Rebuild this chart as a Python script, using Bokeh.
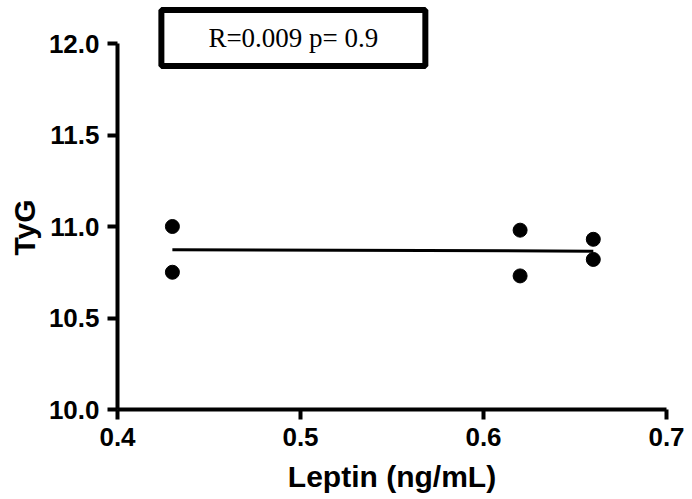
import numpy as np
from bokeh.plotting import figure
from bokeh.models import Range1d, FixedTicker, PrintfTickFormatter, Label, Title
from bokeh.embed import file_html
from bokeh.resources import INLINE

# Data
leptin = [0.43, 0.43, 0.62, 0.62, 0.66, 0.66]
tyg = [11.00, 10.75, 10.98, 10.73, 10.93, 10.82]
x_ticks = [0.4, 0.5, 0.6, 0.7]
y_ticks = [10.0, 10.5, 11.0, 11.5, 12.0]
annotation = "R=0.009 p= 0.9"

W, H = 692, 499
left, right, bottom, top = 117, 26, 90, 0
frame_h = H - bottom - top
# y axis spans 10..12 over 366 px; extra headroom above 12 holds the R/p box
y_end = 10.0 + 2.0 * frame_h / 366.0

p = figure(width=W, height=H, output_backend="svg", toolbar_location=None,
           x_range=Range1d(0.4, 0.7), y_range=Range1d(10.0, y_end),
           min_border_left=left, min_border_right=right,
           min_border_top=top, min_border_bottom=bottom)
p.outline_line_color = None
p.xgrid.visible = False
p.ygrid.visible = False
p.background_fill_color = "white"
p.border_fill_color = "white"

# regression line
slope, intercept = np.polyfit(leptin, tyg, 1)
xs = [min(leptin), max(leptin)]
ys = [slope * x + intercept for x in xs]
p.line(xs, ys, line_color="black", line_width=3)

p.scatter(leptin, tyg, size=14, marker="circle", fill_color="black", line_color="black")

for ax in (p.xaxis[0], p.yaxis[0]):
    ax.axis_line_width = 4
    ax.axis_line_color = "black"
    ax.major_tick_line_width = 4
    ax.major_tick_line_color = "black"
    ax.major_tick_in = 0
    ax.major_tick_out = 10
    ax.minor_tick_line_color = None
    ax.major_label_text_font = "Liberation Sans"
    ax.major_label_text_font_style = "bold"
    ax.major_label_text_font_size = "26px"
    ax.major_label_text_color = "black"
    ax.axis_label_text_font = "Liberation Sans"
    ax.axis_label_text_font_style = "bold"
    ax.axis_label_text_font_size = "30px"
    ax.axis_label_text_color = "black"
    ax.formatter = PrintfTickFormatter(format="%.1f")

p.xaxis[0].ticker = FixedTicker(ticks=x_ticks)
p.yaxis[0].ticker = FixedTicker(ticks=y_ticks)
p.xaxis[0].bounds = (0.4, 0.7)
p.yaxis[0].bounds = (10.0, 12.0)
p.xaxis[0].axis_label = "Leptin (ng/mL)"
p.xaxis[0].major_label_standoff = 8
p.xaxis[0].axis_label_standoff = 11
p.yaxis[0].major_label_standoff = 8

# y-axis title placed as a side title so it is centred on the 10..12 span
ytitle = Title(text="TyG", align="left", offset=154, text_font="Liberation Sans",
               text_font_style="bold", text_font_size="30px", text_color="black",
               standoff=10)
p.add_layout(ytitle, "left")

lab = Label(x=0.4961, y=12.03, text=annotation, text_align="center", text_baseline="middle",
            text_font="Liberation Serif", text_font_size="27px", text_color="black",
            border_line_color="black", border_line_width=6,
            background_fill_color="white", padding=(47, 13))
p.add_layout(lab)

open("out.html", "w").write(file_html(p, INLINE))
